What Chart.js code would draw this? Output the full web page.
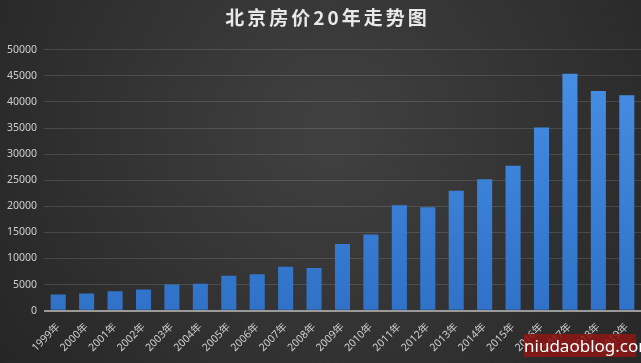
<!DOCTYPE html>
<html>
<head>
<meta charset="utf-8">
<script src="https://cdn.jsdelivr.net/npm/chart.js@4.4.1/dist/chart.umd.min.js"></script>
<style>
  html, body { margin: 0; padding: 0; background: #2e2e2e; }
  #wrap { position: relative; width: 641px; height: 363px; overflow: hidden; }
  #c { display: block; }
  #wm {
    position: absolute; left: 524px; top: 334px; width: 112px; height: 23px;
    background: rgba(140, 22, 22, 0.88); color: #fff;
    font: 17px "Noto Sans", "DejaVu Sans", sans-serif; line-height: 23px;
    text-align: center; white-space: nowrap;
  }
</style>
</head>
<body>
<div id="wrap">
  <canvas id="c" width="641" height="363"></canvas>
  <div id="wm">niudaoblog.com</div>
</div>
<script>
const titleText = '北京房价20年走势图';
const categories = ['1999年','2000年','2001年','2002年','2003年','2004年','2005年','2006年','2007年','2008年','2009年','2010年','2011年','2012年','2013年','2014年','2015年','2016年','2017年','2018年','2019年'];
const prices = [3100, 3300, 3700, 4050, 5000, 5150, 6700, 7000, 8400, 8200, 12800, 14600, 20200, 19800, 23000, 25200, 27800, 35100, 45400, 42100, 41300];
const yMax = 50000;
const yStep = 5000;

const bgPlugin = {
  id: 'bg',
  beforeDraw(chart) {
    const ctx = chart.ctx;
    const w = chart.width, h = chart.height;
    const g = ctx.createRadialGradient(330, 130, 10, 330, 130, 430);
    g.addColorStop(0, '#404040');
    g.addColorStop(1, '#242424');
    ctx.save();
    ctx.fillStyle = g;
    ctx.fillRect(0, 0, w, h);
    ctx.restore();
    const tb = chart.titleBlock;
    if (tb && !tb._ls) {
      const orig = tb.draw.bind(tb);
      tb.draw = function () {
        const c = this.ctx;
        c.save();
        c.translate(7, 0);
        c.letterSpacing = '3px';
        orig();
        c.restore();
      };
      tb._ls = true;
    }
  }
};

function barGradient(context) {
  const chart = context.chart;
  const area = chart.chartArea;
  if (!area) return '#3a80d8';
  const g = chart.ctx.createLinearGradient(0, area.top, 0, area.bottom);
  g.addColorStop(0, '#4891e6');
  g.addColorStop(1, '#2f72c8');
  return g;
}

new Chart(document.getElementById('c'), {
  type: 'bar',
  data: {
    labels: categories,
    datasets: [{
      data: prices,
      backgroundColor: barGradient,
      borderWidth: 0,
      barPercentage: 0.53,
      categoryPercentage: 1.0
    }]
  },
  options: {
    responsive: false,
    animation: false,
    layout: { padding: { left: 0, right: 0, top: 0, bottom: 7 } },
    plugins: {
      legend: { display: false },
      tooltip: { enabled: false },
      title: {
        display: true,
        text: titleText,
        color: '#e8e8e8',
        font: { family: '"Noto Sans CJK SC", sans-serif', size: 19, weight: 'bold', lineHeight: 1.2 },
        padding: { top: 6, bottom: 21 }
      }
    },
    scales: {
      x: {
        grid: { display: false },
        border: { display: false },
        ticks: {
          color: '#cfcfcf',
          font: { family: '"Noto Sans", "Noto Sans CJK SC", sans-serif', size: 10.5 },
          minRotation: 45, maxRotation: 45,
          autoSkip: false,
          padding: 2
        }
      },
      y: {
        min: 0, max: yMax,
        afterFit(scale) { scale.width = 44; },
        border: { display: false },
        grid: {
          drawTicks: false,
          color: (ctx) => ctx.tick && ctx.tick.value === 0 ? '#9a9a9a' : 'rgba(255,255,255,0.13)',
          lineWidth: (ctx) => ctx.tick && ctx.tick.value === 0 ? 2 : 1
        },
        ticks: {
          stepSize: yStep,
          color: '#cfcfcf',
          font: { family: '"Noto Sans", sans-serif', size: 10.5 },
          padding: 7,
          callback: (v) => String(v)
        }
      }
    }
  },
  plugins: [bgPlugin]
});
</script>
</body>
</html>
